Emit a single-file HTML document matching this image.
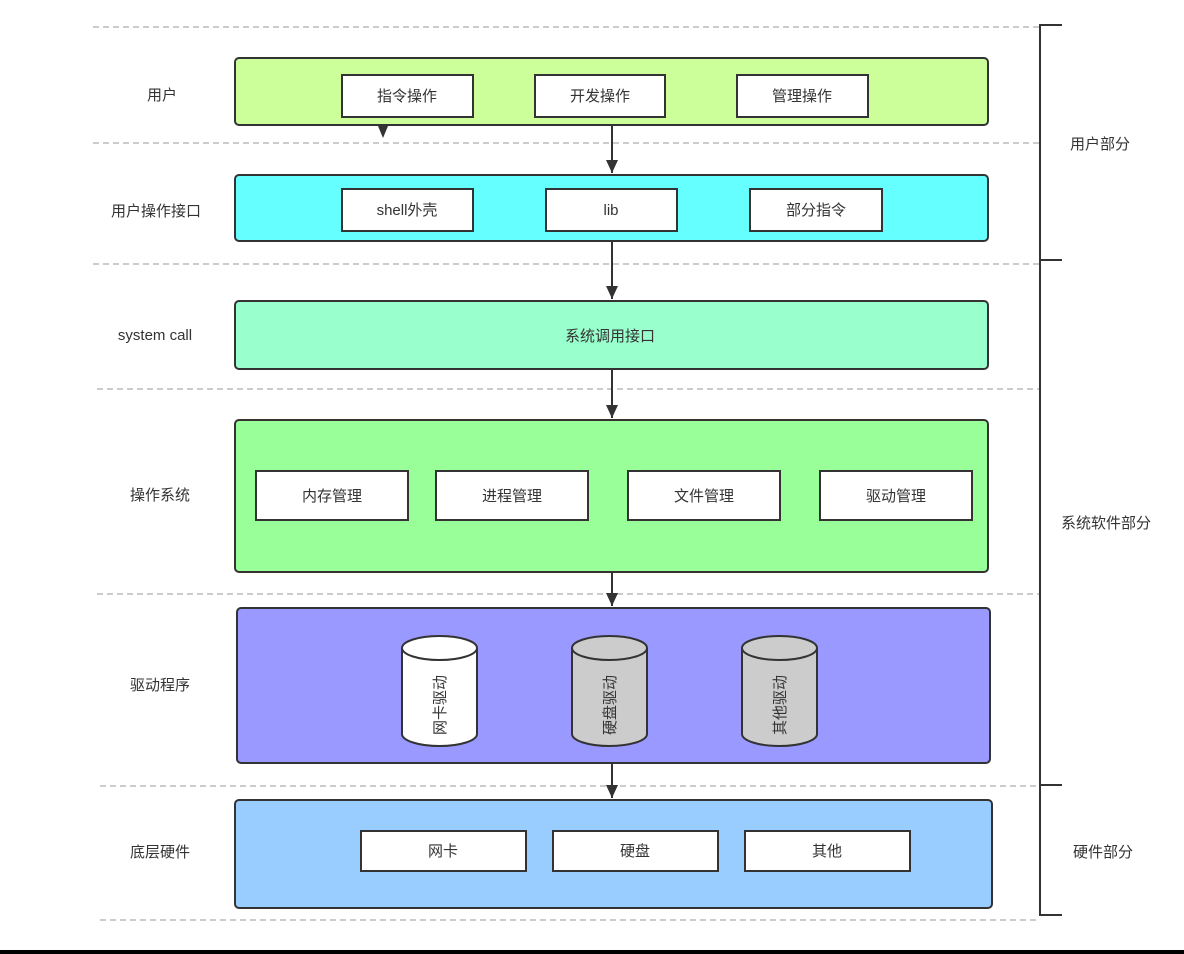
<!DOCTYPE html>
<html><head><meta charset="utf-8"><style>
html,body{margin:0;padding:0;background:#fff;width:1184px;height:954px;overflow:hidden}
text{font-family:"Liberation Sans","Noto Sans CJK SC",sans-serif;font-size:15px;fill:#333}
</style></head><body>
<svg width="1184" height="954" viewBox="0 0 1184 954" xmlns="http://www.w3.org/2000/svg">
<defs><marker id="a" markerWidth="14" markerHeight="12" refX="13" refY="6" orient="auto" markerUnits="userSpaceOnUse"><path d="M0,0 L13,6 L0,12 z" fill="#333"/></marker></defs>
<g stroke="#bbb" stroke-width="1.5" stroke-dasharray="6,4">
<line x1="93" y1="27" x2="1040" y2="27"/>
<line x1="93" y1="143" x2="1040" y2="143"/>
<line x1="93" y1="264" x2="1040" y2="264"/>
<line x1="97" y1="389" x2="1040" y2="389"/>
<line x1="97" y1="594" x2="1040" y2="594"/>
<line x1="100" y1="786" x2="1040" y2="786"/>
<line x1="100" y1="920" x2="1040" y2="920"/>
</g>
<g stroke="#333" stroke-width="2" fill="none">
<path d="M1062,25 H1040 V915 H1062"/>
<path d="M1040,260 H1062 M1040,785 H1062"/>
</g>
<g stroke="#333" stroke-width="2">
<rect x="235" y="58" width="753" height="67" rx="4" fill="#ccff99"/>
<rect x="235" y="175" width="753" height="66" rx="4" fill="#66ffff"/>
<rect x="235" y="301" width="753" height="68" rx="4" fill="#99ffcc"/>
<rect x="235" y="420" width="753" height="152" rx="4" fill="#99ff99"/>
<rect x="237" y="608" width="753" height="155" rx="4" fill="#9999ff"/>
<rect x="235" y="800" width="757" height="108" rx="4" fill="#99ccff"/>
<g fill="#fff">
<rect x="342" y="75" width="131" height="42"/><rect x="535" y="75" width="130" height="42"/><rect x="737" y="75" width="131" height="42"/>
<rect x="342" y="189" width="131" height="42"/><rect x="546" y="189" width="131" height="42"/><rect x="750" y="189" width="132" height="42"/>
<rect x="256" y="471" width="152" height="49"/><rect x="436" y="471" width="152" height="49"/><rect x="628" y="471" width="152" height="49"/><rect x="820" y="471" width="152" height="49"/>
<rect x="361" y="831" width="165" height="40"/><rect x="553" y="831" width="165" height="40"/><rect x="745" y="831" width="165" height="40"/>
</g>
<line x1="612" y1="125" x2="612" y2="173" marker-end="url(#a)"/>
<line x1="612" y1="241" x2="612" y2="299" marker-end="url(#a)"/>
<line x1="612" y1="369" x2="612" y2="418" marker-end="url(#a)"/>
<line x1="612" y1="572" x2="612" y2="606" marker-end="url(#a)"/>
<line x1="612" y1="763" x2="612" y2="798" marker-end="url(#a)"/>
</g>
<path d="M378,126 L388,126 L383,138 z" fill="#333"/>
<g stroke="#333" stroke-width="2">
<path d="M402,648 V734 A37.5,12 0 0 0 477,734 V648" fill="#fff"/><ellipse cx="439.5" cy="648" rx="37.5" ry="12" fill="#fff"/>
<path d="M572,648 V734 A37.5,12 0 0 0 647,734 V648" fill="#ccc"/><ellipse cx="609.5" cy="648" rx="37.5" ry="12" fill="#ccc"/>
<path d="M742,648 V734 A37.5,12 0 0 0 817,734 V648" fill="#ccc"/><ellipse cx="779.5" cy="648" rx="37.5" ry="12" fill="#ccc"/>
</g>
<g text-anchor="middle">
<text x="407" y="101">指令操作</text><text x="600" y="101">开发操作</text><text x="802" y="101">管理操作</text>
<text x="407" y="215">shell外壳</text><text x="611" y="215">lib</text><text x="816" y="215">部分指令</text>
<text x="610" y="341">系统调用接口</text>
<text x="332" y="501">内存管理</text><text x="512" y="501">进程管理</text><text x="704" y="501">文件管理</text><text x="896" y="501">驱动管理</text>
<text x="443" y="856">网卡</text><text x="635" y="856">硬盘</text><text x="827" y="856">其他</text>
<text transform="translate(445,705) rotate(-90)">网卡驱动</text>
<text transform="translate(615,705) rotate(-90)">硬盘驱动</text>
<text transform="translate(785,705) rotate(-90)">其他驱动</text>
<text x="162" y="100">用户</text>
<text x="156" y="216">用户操作接口</text>
<text x="155" y="340">system call</text>
<text x="160" y="500">操作系统</text>
<text x="160" y="690">驱动程序</text>
<text x="160" y="857">底层硬件</text>
<text x="1100" y="149">用户部分</text>
<text x="1106" y="528">系统软件部分</text>
<text x="1103" y="857">硬件部分</text>
</g>
<rect x="0" y="950" width="1184" height="4" fill="#000"/>
</svg>
</body></html>
